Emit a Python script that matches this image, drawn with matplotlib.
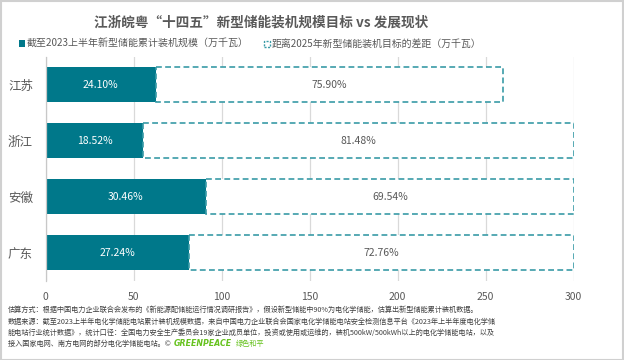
import matplotlib
matplotlib.use("Agg")
import matplotlib.pyplot as plt
from matplotlib.patches import Rectangle
import numpy as np

plt.rcParams['font.family'] = ['Noto Sans CJK SC', 'DejaVu Sans']

provinces = ['江苏', '浙江', '安徽', '广东']
installed = [62.66, 55.56, 91.38, 81.72]
gap = [197.34, 244.44, 208.62, 218.28]
installed_labels = ['24.10%', '18.52%', '30.46%', '27.24%']
gap_labels = ['75.90%', '81.48%', '69.54%', '72.76%']
xticks = [0, 50, 100, 150, 200, 250, 300]

title = '江浙皖粤“十四五”新型储能装机规模目标 vs 发展现状'
legend1 = '截至2023上半年新型储能累计装机规模（万千瓦）'
legend2 = '距离2025年新型储能装机目标的差距（万千瓦）'
notes = [
    '估算方式：根据中国电力企业联合会发布的《新能源配储能运行情况调研报告》，假设新型储能中90%为电化学储能，估算出新型储能累计装机数据。',
    '数据来源：截至2023上半年电化学储能电站累计装机规模数据，来自中国电力企业联合会国家电化学储能电站安全检测信息平台《2023年上半年度电化学储',
    '能电站行业统计数据》，统计口径：全国电力安全生产委员会19家企业成员单位，投资或使用或运维的，装机500kW/500kWh以上的电化学储能电站，以及',
    '接入国家电网、南方电网的部分电化学储能电站。© ',
]

TEAL = '#00788A'
DASH = '#3A9BA7'
GREY = '#595959'

W, H = 624, 360
fig = plt.figure(figsize=(W / 100, H / 100), dpi=100)
fig.patch.set_facecolor('white')
r = fig.canvas.get_renderer()


def fit(t, target):
    for _ in range(3):
        w = t.get_window_extent(r).width
        t.set_fontsize(t.get_fontsize() * target / w)


ax = fig.add_axes([45.5 / W, 1 - 280.5 / H, (573.5 - 45.5) / W, (280.5 - 56.5) / H])
y = np.arange(len(provinces))
ax.barh(y, installed, height=0.61, color=TEAL, zorder=3)
ax.barh(y, gap, left=installed, height=0.61, facecolor='white', edgecolor=DASH,
        linestyle=(0, (3.5, 2)), linewidth=1.2, zorder=3)

for i in range(len(provinces)):
    ax.text(installed[i] / 2, y[i], installed_labels[i], ha='center', va='center',
            color='white', fontsize=7.5, zorder=5)
    ax.text(installed[i] + gap[i] / 2, y[i], gap_labels[i], ha='center', va='center',
            color=GREY, fontsize=7.5, zorder=5)

ax.set_xlim(0, 300)
ax.set_ylim(-0.5, len(provinces) - 0.5)
ax.invert_yaxis()
ax.set_xticks(xticks)
ax.set_xticklabels([str(t) for t in xticks])
ax.set_yticks(y)
ax.set_yticklabels(provinces)
ax.tick_params(axis='x', length=0, pad=8, labelsize=7.5, labelcolor=GREY)
ax.tick_params(axis='y', length=0, pad=9, labelsize=9, labelcolor=GREY)
ax.grid(axis='x', color='#D9D9D9', linewidth=0.9, zorder=0)
for s in ['top', 'right', 'bottom']:
    ax.spines[s].set_visible(False)
ax.spines['left'].set_color('#C8C8C8')
ax.spines['left'].set_linewidth(0.9)
ax.spines['left'].set_zorder(6)

tt = fig.text(261.5 / W, 1 - 23 / H, title, ha='center', va='center', fontsize=10,
              fontweight='bold', color=GREY)
fit(tt, 333)

# legend
fig.patches.append(Rectangle((18.5 / W, 1 - 46.5 / H), 6 / W, 6 / H, transform=fig.transFigure,
                             facecolor=TEAL, edgecolor='none'))
l1 = fig.text(27 / W, 1 - 43.5 / H, legend1, ha='left', va='center', fontsize=7.2, color=GREY)
fit(l1, 221)
fig.patches.append(Rectangle((264 / W, 1 - 46.5 / H), 5.5 / W, 5.5 / H, transform=fig.transFigure,
                             facecolor='white', edgecolor=DASH, linewidth=1.0,
                             linestyle=(0, (1.5, 1))))
l2 = fig.text(272 / W, 1 - 43.5 / H, legend2, ha='left', va='center', fontsize=7.2, color=GREY)
fit(l2, 210)

# notes
ys = [310, 321.5, 332.5, 343.5]
texts = []
for ln, yy in zip(notes, ys):
    texts.append(fig.text(8 / W, 1 - yy / H, ln, ha='left', va='center', fontsize=5.4,
                          color='#404040'))
fit(texts[0], 472)
fs = texts[0].get_fontsize()
for t in texts[1:]:
    t.set_fontsize(fs)
bb = texts[-1].get_window_extent(r)
t2 = fig.text((bb.x1 + 1) / W, 1 - ys[-1] / H, 'GREENPEACE', ha='left', va='center',
              fontsize=fs * 1.1, fontweight='bold', fontstyle='italic', color='#66C21E',
              family=['DejaVu Sans'])
bb2 = t2.get_window_extent(r)
fig.text((bb2.x1 + 4) / W, 1 - ys[-1] / H, '绿色和平', ha='left', va='center',
         fontsize=fs, color='#66C21E')

fig.patches.append(Rectangle((0.5 / W, 0.5 / H), (W - 1.5) / W, (H - 1.5) / H,
                             transform=fig.transFigure, fill=False,
                             edgecolor='#D0D0D0', linewidth=1.5))

fig.savefig('out.png', dpi=100, facecolor='white')
